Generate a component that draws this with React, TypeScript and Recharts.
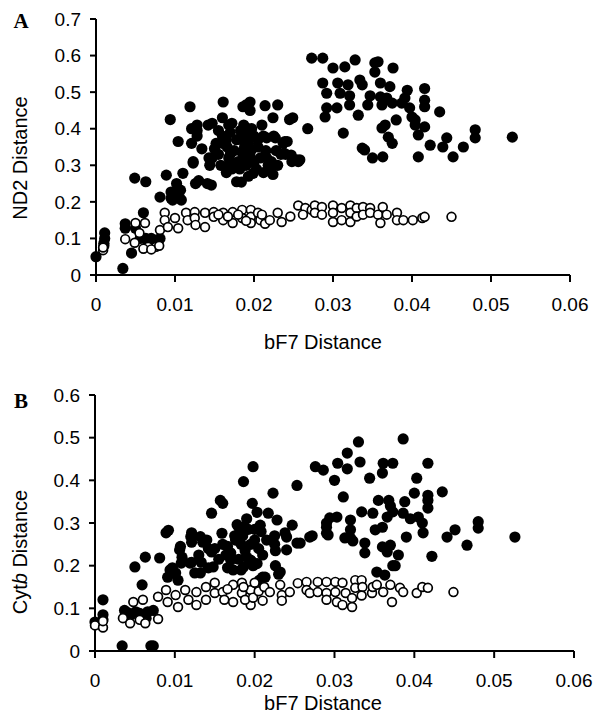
import React from 'react';
import { ScatterChart, Scatter, XAxis, YAxis } from 'recharts';

// Panel A: ND2 vs bF7 distance
const ndFilled: [number, number][] = [
  [0.0000,0.050],[0.0011,0.115],[0.0011,0.100],[0.0010,0.087],[0.0010,0.080],
  [0.0034,0.018],[0.0037,0.140],[0.0037,0.128],[0.0045,0.060],[0.0050,0.128],[0.0060,0.170],
  [0.0056,0.100],[0.0063,0.100],[0.0070,0.100],[0.0075,0.095],[0.0081,0.100],[0.0066,0.085],[0.0074,0.085],
  [0.0049,0.265],[0.0063,0.255],[0.0081,0.213],[0.0089,0.273],[0.0095,0.227],[0.0095,0.210],[0.0097,0.205],
  [0.0102,0.250],[0.0104,0.225],[0.0106,0.210],[0.0107,0.232],[0.0108,0.205],[0.0110,0.278],[0.0123,0.306],
  [0.0094,0.425],[0.0104,0.365],[0.0119,0.460],[0.0121,0.400],[0.0121,0.360],[0.0123,0.310],
  [0.0126,0.250],[0.0130,0.258],[0.0128,0.410],[0.0128,0.395],[0.0128,0.380],[0.0134,0.345],
  [0.0142,0.410],[0.0141,0.250],[0.0146,0.246],[0.0143,0.320],[0.0147,0.320],[0.0144,0.300],[0.0147,0.415],
  [0.0161,0.473],[0.0160,0.430],[0.0160,0.380],[0.0166,0.350],[0.0168,0.320],[0.0168,0.300],[0.0168,0.410],
  [0.0170,0.390],[0.0172,0.415],[0.0172,0.290],[0.0178,0.255],[0.0184,0.254],[0.0186,0.460],[0.0195,0.473],
  [0.0195,0.450],[0.0190,0.465],[0.0187,0.410],[0.0187,0.380],[0.0188,0.350],[0.0189,0.320],[0.0190,0.300],
  [0.0192,0.400],[0.0193,0.360],[0.0193,0.270],[0.0197,0.400],[0.0196,0.340],[0.0196,0.310],[0.0199,0.278],
  [0.0210,0.410],[0.0214,0.463],[0.0212,0.380],[0.0216,0.375],[0.0216,0.320],[0.0218,0.300],
  [0.0224,0.430],[0.0225,0.380],[0.0224,0.275],[0.0230,0.465],[0.0227,0.375],[0.0234,0.330],[0.0237,0.360],
  [0.0240,0.330],[0.0245,0.425],[0.0242,0.365],[0.0248,0.310],[0.0249,0.430],[0.0254,0.315],
  [0.0239,0.365],[0.0238,0.333],[0.0247,0.328],[0.0256,0.310],[0.0268,0.400],[0.0258,0.315],
  [0.0155,0.330],[0.0160,0.360],[0.0175,0.340],[0.0180,0.310],[0.0178,0.370],[0.0182,0.290],[0.0205,0.350],
  [0.0208,0.320],[0.0203,0.290],[0.0158,0.300],[0.0165,0.280],[0.0212,0.280],[0.0222,0.310],[0.0228,0.340],
  [0.0200,0.380],[0.0183,0.395],[0.0152,0.360],[0.0155,0.395],
  [0.0170,0.330],[0.0185,0.335],[0.0195,0.325],[0.0175,0.300],[0.0200,0.310],[0.0185,0.370],[0.0205,0.370],
  [0.0215,0.340],[0.0220,0.290],[0.0165,0.370],[0.0150,0.345],[0.0230,0.300],
  [0.0273,0.593],[0.0287,0.593],[0.0300,0.566],[0.0315,0.569],[0.0328,0.588],[0.0353,0.580],[0.0357,0.583],
  [0.0353,0.555],[0.0376,0.566],[0.0287,0.525],[0.0306,0.525],[0.0319,0.520],[0.0334,0.533],[0.0337,0.520],
  [0.0360,0.525],[0.0372,0.515],[0.0416,0.510],[0.0292,0.497],[0.0309,0.497],[0.0321,0.490],[0.0347,0.490],
  [0.0360,0.487],[0.0368,0.484],[0.0375,0.470],[0.0394,0.505],[0.0391,0.484],[0.0387,0.470],[0.0416,0.478],
  [0.0416,0.460],[0.0292,0.457],[0.0290,0.432],[0.0305,0.457],[0.0321,0.465],[0.0344,0.465],[0.0362,0.465],
  [0.0397,0.457],[0.0400,0.432],[0.0404,0.424],[0.0435,0.446],[0.0332,0.437],[0.0380,0.424],
  [0.0313,0.388],[0.0362,0.402],[0.0366,0.410],[0.0404,0.410],[0.0416,0.405],[0.0408,0.383],[0.0370,0.377],
  [0.0375,0.360],[0.0444,0.375],[0.0439,0.350],[0.0423,0.355],[0.0480,0.397],[0.0480,0.375],[0.0465,0.350],
  [0.0527,0.377],[0.0337,0.347],[0.0340,0.342],[0.0350,0.320],[0.0363,0.323],[0.0408,0.323],[0.0452,0.323],
];

const ndOpen: [number, number][] = [
  [0.0009,0.068],[0.0009,0.075],[0.0037,0.098],[0.0049,0.088],[0.0050,0.142],[0.0062,0.142],[0.0066,0.077],
  [0.0076,0.077],[0.0060,0.072],[0.0070,0.070],[0.0080,0.080],[0.0055,0.115],
  [0.0081,0.123],[0.0087,0.170],[0.0087,0.150],[0.0091,0.131],[0.0100,0.156],[0.0104,0.128],[0.0114,0.170],
  [0.0116,0.150],[0.0125,0.172],[0.0125,0.156],[0.0126,0.137],[0.0138,0.170],[0.0138,0.131],[0.0149,0.172],
  [0.0149,0.159],[0.0161,0.170],[0.0161,0.150],[0.0173,0.172],[0.0173,0.142],[0.0185,0.178],[0.0185,0.156],
  [0.0196,0.178],[0.0196,0.159],[0.0196,0.142],[0.0155,0.165],[0.0167,0.160],[0.0180,0.165],[0.0190,0.148],
  [0.0205,0.170],[0.0208,0.150],[0.0214,0.140],[0.0210,0.165],[0.0220,0.150],[0.0230,0.170],[0.0235,0.145],
  [0.0246,0.160],[0.0256,0.190],[0.0265,0.183],[0.0262,0.165],[0.0273,0.178],[0.0277,0.190],[0.0277,0.170],
  [0.0286,0.186],[0.0286,0.165],[0.0300,0.190],[0.0300,0.170],[0.0300,0.145],[0.0311,0.183],[0.0311,0.150],
  [0.0322,0.190],[0.0322,0.170],[0.0322,0.145],[0.0330,0.183],[0.0330,0.160],[0.0338,0.186],[0.0338,0.165],
  [0.0347,0.183],[0.0347,0.170],[0.0357,0.165],[0.0360,0.142],[0.0363,0.186],[0.0368,0.165],[0.0381,0.170],
  [0.0381,0.150],[0.0389,0.150],[0.0401,0.150],[0.0413,0.156],[0.0416,0.159],[0.0450,0.159],
];

// Panel B: Cytb vs bF7 distance
const cytFilled: [number, number][] = [
  [0.0000,0.068],[0.0010,0.120],[0.0010,0.085],[0.0010,0.073],[0.0034,0.012],[0.0070,0.012],[0.0073,0.012],
  [0.0037,0.095],[0.0041,0.090],[0.0051,0.092],[0.0056,0.088],[0.0066,0.092],[0.0073,0.095],[0.0064,0.077],
  [0.0045,0.085],[0.0050,0.197],[0.0063,0.220],[0.0059,0.155],[0.0092,0.283],[0.0081,0.218],[0.0094,0.190],
  [0.0097,0.195],[0.0101,0.183],[0.0104,0.166],[0.0091,0.173],[0.0108,0.206],[0.0106,0.237],[0.0107,0.245],
  [0.0109,0.220],[0.0119,0.206],[0.0125,0.183],[0.0133,0.208],[0.0148,0.197],[0.0173,0.190],[0.0183,0.190],
  [0.0089,0.277],[0.0120,0.268],[0.0121,0.277],[0.0121,0.255],[0.0132,0.268],[0.0135,0.255],[0.0121,0.208],
  [0.0132,0.183],[0.0146,0.323],[0.0157,0.353],[0.0160,0.346],[0.0142,0.240],[0.0146,0.232],[0.0142,0.195],
  [0.0159,0.276],[0.0160,0.250],[0.0166,0.245],[0.0164,0.225],[0.0166,0.195],[0.0178,0.296],[0.0180,0.290],
  [0.0186,0.397],[0.0176,0.260],[0.0185,0.290],[0.0190,0.310],[0.0192,0.285],[0.0183,0.250],[0.0188,0.235],
  [0.0190,0.220],[0.0196,0.210],[0.0198,0.432],[0.0197,0.346],[0.0203,0.325],[0.0200,0.285],[0.0200,0.260],
  [0.0207,0.295],[0.0208,0.280],[0.0213,0.173],[0.0223,0.370],[0.0217,0.323],[0.0228,0.307],[0.0225,0.270],
  [0.0226,0.235],[0.0226,0.200],[0.0230,0.180],[0.0238,0.277],[0.0240,0.237],[0.0247,0.295],[0.0253,0.253],
  [0.0253,0.388],[0.0276,0.432],[0.0286,0.424],[0.0269,0.267],[0.0290,0.300],[0.0290,0.276],[0.0240,0.267],
  [0.0225,0.250],[0.0186,0.197],[0.0198,0.200],[0.0232,0.185],[0.0210,0.173],[0.0206,0.166],[0.0170,0.213],
  [0.0195,0.213],[0.0203,0.205],
  [0.0140,0.260],[0.0150,0.240],[0.0170,0.230],[0.0175,0.270],[0.0185,0.270],[0.0195,0.250],[0.0205,0.240],
  [0.0215,0.260],[0.0180,0.215],[0.0210,0.225],[0.0130,0.225],[0.0155,0.215],
  [0.0330,0.490],[0.0386,0.497],[0.0316,0.464],[0.0304,0.440],[0.0316,0.427],[0.0332,0.443],[0.0361,0.440],
  [0.0373,0.440],[0.0360,0.417],[0.0300,0.400],[0.0344,0.405],[0.0417,0.440],[0.0403,0.405],
  [0.0417,0.365],[0.0417,0.353],[0.0417,0.335],[0.0400,0.370],[0.0435,0.373],[0.0311,0.361],[0.0355,0.353],
  [0.0368,0.353],[0.0370,0.340],[0.0373,0.326],[0.0388,0.350],[0.0334,0.326],[0.0348,0.323],[0.0366,0.314],
  [0.0386,0.323],[0.0395,0.310],[0.0405,0.314],[0.0410,0.300],[0.0294,0.312],[0.0303,0.314],[0.0290,0.290],
  [0.0292,0.272],[0.0320,0.307],[0.0320,0.284],[0.0320,0.265],[0.0313,0.265],[0.0323,0.258],[0.0257,0.253],
  [0.0272,0.270],[0.0351,0.284],[0.0360,0.290],[0.0390,0.267],[0.0411,0.277],[0.0338,0.253],[0.0338,0.230],
  [0.0360,0.244],[0.0366,0.232],[0.0370,0.248],[0.0380,0.225],[0.0376,0.200],[0.0422,0.222],[0.0441,0.267],
  [0.0451,0.284],[0.0480,0.303],[0.0480,0.288],[0.0466,0.248],[0.0526,0.267],[0.0353,0.185],[0.0363,0.178],
  [0.0373,0.200],
];

const cytOpen: [number, number][] = [
  [0.0000,0.060],[0.0010,0.055],[0.0010,0.070],[0.0035,0.077],[0.0044,0.065],[0.0048,0.115],[0.0060,0.120],
  [0.0056,0.073],[0.0063,0.065],[0.0079,0.075],[0.0079,0.127],[0.0089,0.143],[0.0091,0.115],[0.0101,0.131],
  [0.0104,0.103],[0.0113,0.143],[0.0117,0.120],[0.0127,0.138],[0.0127,0.108],[0.0139,0.150],[0.0139,0.120],
  [0.0150,0.160],[0.0150,0.136],[0.0160,0.138],[0.0162,0.120],[0.0173,0.155],[0.0173,0.115],[0.0184,0.160],
  [0.0184,0.136],[0.0195,0.143],[0.0195,0.108],[0.0166,0.145],[0.0186,0.150],[0.0188,0.120],[0.0198,0.125],
  [0.0200,0.160],[0.0205,0.140],[0.0210,0.118],[0.0212,0.150],[0.0219,0.138],[0.0232,0.155],[0.0234,0.131],
  [0.0234,0.118],[0.0244,0.138],[0.0254,0.159],[0.0265,0.162],[0.0265,0.143],[0.0269,0.136],[0.0279,0.162],
  [0.0279,0.138],[0.0290,0.162],[0.0290,0.136],[0.0290,0.120],[0.0301,0.162],[0.0301,0.138],[0.0303,0.115],
  [0.0310,0.160],[0.0314,0.136],[0.0310,0.108],[0.0322,0.124],[0.0322,0.103],[0.0326,0.166],[0.0326,0.148],
  [0.0334,0.166],[0.0335,0.150],[0.0334,0.130],[0.0347,0.136],[0.0348,0.150],[0.0353,0.155],[0.0361,0.138],
  [0.0370,0.155],[0.0372,0.115],[0.0382,0.148],[0.0386,0.138],[0.0403,0.136],[0.0410,0.150],[0.0417,0.148],
  [0.0449,0.138],
];

const xTicks = [0, 0.01, 0.02, 0.03, 0.04, 0.05, 0.06];
const yTicksA = [0, 0.1, 0.2, 0.3, 0.4, 0.5, 0.6, 0.7];
const yTicksB = [0, 0.1, 0.2, 0.3, 0.4, 0.5, 0.6];

const FONT = '"Liberation Sans", Arial, Helvetica, sans-serif';
const toPts = (a: [number, number][]) => a.map(([x, y]) => ({ x, y }));

const FilledDot = (p: any) => <circle cx={p.cx} cy={p.cy} r={5.6} fill="#000" />;
const OpenDot = (p: any) => (
  <circle cx={p.cx} cy={p.cy} r={4.4} fill="#fff" stroke="#000" strokeWidth={1.7} />
);

const axisLine = { stroke: '#000', strokeWidth: 2 };
const tickStyle = { fill: '#000', fontSize: 19, fontFamily: FONT };

function Panel(props: {
  top: number; height: number; mTop: number; mRight: number; yWidth: number; xHeight: number;
  yTicks: number[]; yMax: number; filled: [number, number][]; open: [number, number][];
}) {
  return (
    <div style={{ position: 'absolute', left: 0, top: props.top }}>
      <ScatterChart
        width={596}
        height={props.height}
        margin={{ top: props.mTop, right: props.mRight, bottom: 0, left: 0 }}
      >
        <XAxis
          type="number"
          dataKey="x"
          domain={[0, 0.06]}
          ticks={xTicks}
          tickFormatter={(v: number) => (v === 0 ? '0' : v.toFixed(2))}
          axisLine={axisLine}
          tickLine={axisLine}
          tick={tickStyle}
          tickSize={7}
          tickMargin={16}
          height={props.xHeight}
          interval={0}
        />
        <YAxis
          type="number"
          dataKey="y"
          domain={[0, props.yMax]}
          ticks={props.yTicks}
          tickFormatter={(v: number) => (v === 0 ? '0' : v.toFixed(1))}
          axisLine={axisLine}
          tickLine={axisLine}
          tick={tickStyle}
          tickSize={6}
          tickMargin={9}
          width={props.yWidth}
          interval={0}
        />
        <Scatter data={toPts(props.filled)} shape={FilledDot} isAnimationActive={false} />
        <Scatter data={toPts(props.open)} shape={OpenDot} isAnimationActive={false} />
      </ScatterChart>
    </div>
  );
}

const abs = (x: number, y: number, extra: React.CSSProperties = {}): React.CSSProperties => ({
  position: 'absolute', left: x, top: y, transform: 'translate(-50%, -50%)', whiteSpace: 'nowrap',
  fontFamily: FONT, fontSize: 20, color: '#000', lineHeight: 1, ...extra,
});

export default function App() {
  return (
    <div style={{ position: 'absolute', left: 0, top: 0, width: 596, height: 721, background: '#fff' }}>
      <Panel top={0} height={360} mTop={19} mRight={26} yWidth={96} xHeight={85}
        yTicks={yTicksA} yMax={0.7} filled={ndFilled} open={ndOpen} />
      <Panel top={360} height={361} mTop={35} mRight={22} yWidth={95} xHeight={70}
        yTicks={yTicksB} yMax={0.6} filled={cytFilled} open={cytOpen} />
      <div style={abs(21, 21, { fontFamily: '"Liberation Serif", "Times New Roman", serif', fontWeight: 'bold', fontSize: 21 })}>A</div>
      <div style={abs(21, 401, { fontFamily: '"Liberation Serif", "Times New Roman", serif', fontWeight: 'bold', fontSize: 21 })}>B</div>
      <div style={abs(20, 158, { transform: 'translate(-50%, -50%) rotate(-90deg)' })}>ND2 Distance</div>
      <div style={abs(20, 552, { transform: 'translate(-50%, -50%) rotate(-90deg)' })}>
        Cyt<i>b</i> Distance
      </div>
      <div style={abs(323, 342)}>bF7 Distance</div>
      <div style={abs(323, 703)}>bF7 Distance</div>
    </div>
  );
}
